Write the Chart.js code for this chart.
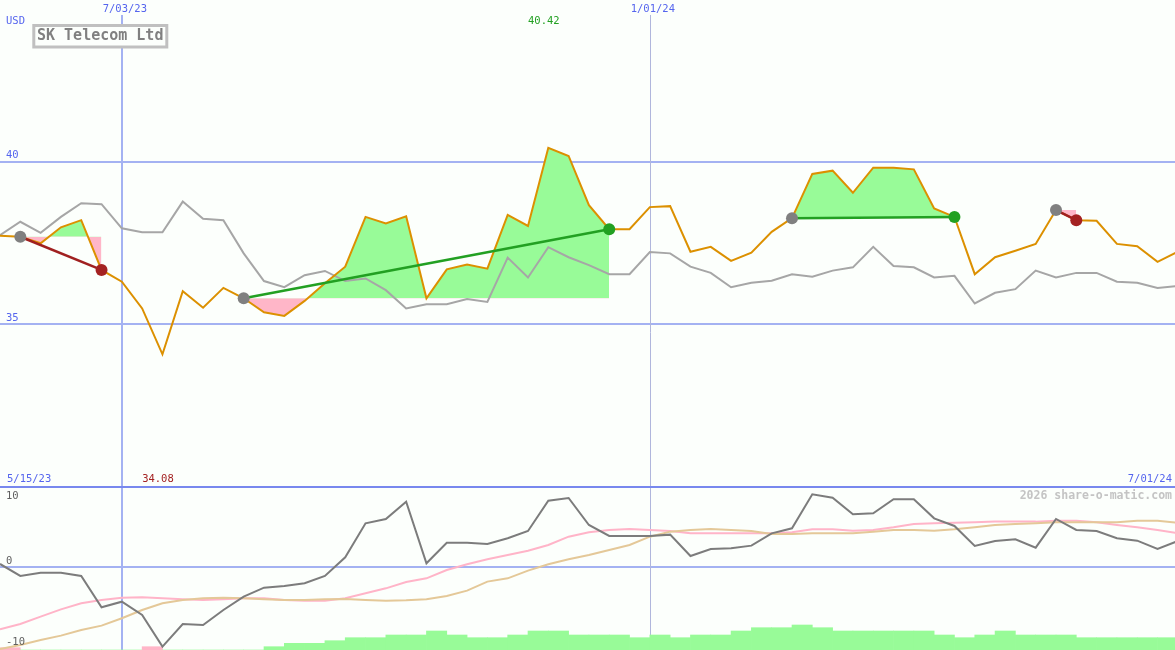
<!DOCTYPE html>
<html>
<head>
<meta charset="utf-8">
<title>SK Telecom Ltd</title>
<script src="https://cdn.jsdelivr.net/npm/chart.js@4.4.1/dist/chart.umd.min.js"></script>
<style>
  html, body { margin: 0; padding: 0; background: #fcfffc; }
  #wrap { width: 1175px; height: 650px; }
</style>
</head>
<body>
<div id="wrap"><canvas id="chart" width="1175" height="650"></canvas></div>
<script>
// weekly closes, week 0 is the first on the chart
const price = [37.72, 37.69, 37.49, 37.98, 38.20, 36.67, 36.31, 35.49, 34.08, 36.02,
  35.51, 36.12, 35.80, 35.37, 35.26, 35.72, 36.26, 36.77, 38.30, 38.10,
  38.32, 35.80, 36.69, 36.84, 36.71, 38.36, 38.02, 40.42, 40.17, 38.66,
  37.92, 37.92, 38.60, 38.63, 37.23, 37.38, 36.95, 37.20, 37.84, 38.26,
  39.62, 39.72, 39.04, 39.81, 39.81, 39.76, 38.56, 38.30, 36.54, 37.06,
  37.26, 37.47, 38.51, 38.20, 38.18, 37.47, 37.40, 36.92, 37.23];

// comparison line (grey)
const compare = [37.74, 38.15, 37.81, 38.30, 38.72, 38.69, 37.95, 37.83, 37.83, 38.77,
  38.24, 38.20, 37.18, 36.33, 36.14, 36.51, 36.64, 36.33, 36.41, 36.05,
  35.49, 35.62, 35.62, 35.78, 35.69, 37.05, 36.44, 37.37, 37.06, 36.82,
  36.54, 36.54, 37.22, 37.18, 36.77, 36.58, 36.14, 36.28, 36.34, 36.54,
  36.46, 36.65, 36.75, 37.38, 36.79, 36.75, 36.44, 36.49, 35.64, 35.97,
  36.08, 36.65, 36.44, 36.58, 36.58, 36.31, 36.28, 36.12, 36.18];

// lower panel oscillator and its two averages
const osc = [0.5, -1.21, -0.74, -0.74, -1.21, -5.69, -4.89, -6.79, -11.31, -8.07,
  -8.21, -6.07, -4.17, -2.88, -2.64, -2.26, -1.21, 1.45, 6.31, 6.93,
  9.40, 0.60, 3.54, 3.54, 3.36, 4.17, 5.21, 9.54, 9.93, 6.07,
  4.50, 4.50, 4.50, 4.69, 1.64, 2.64, 2.74, 3.12, 4.88, 5.60,
  10.45, 9.97, 7.60, 7.74, 9.74, 9.74, 7.02, 5.93, 3.07, 3.79,
  4.02, 2.83, 6.93, 5.36, 5.21, 4.17, 3.83, 2.64, 3.79];

const oscFast = [-8.83, -8.07, -7.02, -5.98, -5.12, -4.64, -4.31, -4.26, -4.40, -4.55,
  -4.64, -4.55, -4.40, -4.40, -4.64, -4.74, -4.74, -4.40, -3.69, -2.98,
  -2.07, -1.55, -0.36, 0.45, 1.17, 1.79, 2.40, 3.21, 4.40, 5.02,
  5.36, 5.50, 5.36, 5.21, 4.88, 4.88, 4.88, 4.88, 4.88, 5.02,
  5.45, 5.45, 5.26, 5.36, 5.74, 6.21, 6.31, 6.40, 6.45, 6.55,
  6.55, 6.55, 6.69, 6.69, 6.45, 6.07, 5.74, 5.36, 4.88];

const oscSlow = [-11.64, -11.07, -10.36, -9.74, -8.93, -8.31, -7.26, -6.07, -5.12, -4.64,
  -4.40, -4.31, -4.40, -4.55, -4.64, -4.64, -4.55, -4.50, -4.64, -4.74,
  -4.69, -4.55, -4.07, -3.31, -2.02, -1.55, -0.45, 0.45, 1.17, 1.79,
  2.50, 3.21, 4.40, 5.12, 5.36, 5.50, 5.36, 5.21, 4.79, 4.79,
  4.88, 4.88, 4.88, 5.12, 5.36, 5.36, 5.26, 5.45, 5.74, 6.07,
  6.21, 6.31, 6.45, 6.45, 6.45, 6.45, 6.69, 6.69, 6.40];

// weekly bars along the bottom, negative weeks are pink
const volume = [-2.3, 0, 0, 0, 0, 0, 0, -3.3, 0, 0,
  0, 0, 0, 3.3, 6.7, 6.7, 9.3, 12.3, 12.3, 15,
  15, 19, 15, 12.3, 12.3, 15, 19, 19, 15, 15,
  15, 12.3, 15, 12.3, 15, 15, 19, 22.3, 22.3, 25,
  22.3, 19, 19, 19, 19, 19, 15, 12.3, 15, 19,
  15, 15, 15, 12.3, 12.3, 12.3, 12.3, 12.3];

// [entry week, exit week]
const trades = [[1, 5], [12, 30], [39, 47], [52, 53]];

const dateMarks = [[6, '7/03/23'], [32, '1/01/24']];
const firstDate = '5/15/23';
const lastDate = '7/01/24';
const priceTicks = [40, 35];
const oscTicks = [10, 0, -10];

const W = 1175, H = 650, SPLIT = 487;
const GREEN = '#98fb98', PINK = '#ffb6c8';
const BLUE = '#5565ee', GRID = '#a4b2f2';
const MONO = '"DejaVu Sans Mono", "Liberation Mono", monospace';

const pts = arr => arr.map((v, i) => ({x: i, y: v}));

const datasets = [];

// entry / exit dots
const markerData = [], markerColors = [];
trades.forEach(([a, b]) => {
  const win = price[b] > price[a];
  markerData.push({x: a, y: price[a]}, {x: b, y: price[b]});
  markerColors.push('#808080', win ? '#22a022' : '#a42222');
});
datasets.push({
  data: markerData, yAxisID: 'yP', showLine: false, order: 0,
  pointRadius: 6, pointHoverRadius: 6, pointBorderWidth: 0,
  pointBackgroundColor: markerColors
});

trades.forEach(([a, b]) => {
  const win = price[b] > price[a];
  datasets.push({
    data: [{x: a, y: price[a]}, {x: b, y: price[b]}], yAxisID: 'yP', order: 1,
    borderColor: win ? '#22a022' : '#a02020', borderWidth: 2.5, pointRadius: 0
  });
  datasets.push({
    data: pts(price).slice(a, b + 1), yAxisID: 'yP', order: 5,
    borderWidth: 0, pointRadius: 0,
    fill: {target: {value: price[a]}, above: GREEN, below: PINK}
  });
});

datasets.push({data: pts(price), yAxisID: 'yP', order: 2, borderColor: '#dc9000', borderWidth: 2, pointRadius: 0});
datasets.push({data: pts(compare), yAxisID: 'yP', order: 3, borderColor: '#a6a6a6', borderWidth: 2, pointRadius: 0});

datasets.push({data: pts(osc), yAxisID: 'yO', order: 6, borderColor: '#7c7c7c', borderWidth: 2, pointRadius: 0});
datasets.push({data: pts(oscSlow), yAxisID: 'yO', order: 7, borderColor: '#e4c898', borderWidth: 2, pointRadius: 0});
datasets.push({data: pts(oscFast), yAxisID: 'yO', order: 8, borderColor: '#ffb4c8', borderWidth: 2, pointRadius: 0});

datasets.push({
  type: 'bar', yAxisID: 'yV', order: 9,
  data: volume.map((v, i) => ({x: i + 0.5, y: Math.abs(v)})),
  backgroundColor: volume.map(v => v < 0 ? PINK : GREEN),
  borderWidth: 0, barPercentage: 1, categoryPercentage: 1, grouped: false
});

const backdrop = {
  id: 'backdrop',
  beforeDatasetsDraw(chart) {
    const {ctx, scales: {x, yP, yO}} = chart;
    ctx.save();
    ctx.fillStyle = '#fcfffc';
    ctx.fillRect(0, 0, W, H);
    ctx.strokeStyle = GRID;
    ctx.lineWidth = 2;
    priceTicks.forEach(v => {
      const y = Math.round(yP.getPixelForValue(v));
      ctx.beginPath(); ctx.moveTo(0, y); ctx.lineTo(W, y); ctx.stroke();
    });
    const y0 = Math.round(yO.getPixelForValue(0));
    ctx.beginPath(); ctx.moveTo(0, y0); ctx.lineTo(W, y0); ctx.stroke();
    dateMarks.forEach(([i], k) => {
      const px = Math.round(x.getPixelForValue(i));
      ctx.lineWidth = k === 0 ? 2 : 1;
      ctx.strokeStyle = k === 0 ? GRID : '#b0b6dc';
      ctx.beginPath(); ctx.moveTo(px + (k === 0 ? 0 : 0.5), 15); ctx.lineTo(px + (k === 0 ? 0 : 0.5), H); ctx.stroke();
    });
    ctx.strokeStyle = '#7888ee';
    ctx.lineWidth = 2;
    ctx.beginPath(); ctx.moveTo(0, SPLIT); ctx.lineTo(W, SPLIT); ctx.stroke();
    ctx.restore();
  },
  afterDraw(chart) {
    const {ctx, scales: {x, yP, yO}} = chart;
    ctx.save();
    ctx.textBaseline = 'middle';
    ctx.font = '10.5px ' + MONO;

    ctx.fillStyle = BLUE;
    ctx.textAlign = 'left';
    ctx.fillText('USD', 6, 21);
    priceTicks.forEach(v => ctx.fillText(String(v), 6, yP.getPixelForValue(v) - 6));
    ctx.fillText(firstDate, 7, SPLIT - 8);
    ctx.textAlign = 'right';
    ctx.fillText(lastDate, 1172, SPLIT - 8);
    ctx.textAlign = 'center';
    dateMarks.forEach(([i, label]) => ctx.fillText(label, x.getPixelForValue(i) + 3, 9));

    // high / low of the period
    const hi = price.indexOf(Math.max(...price));
    const lo = price.indexOf(Math.min(...price));
    ctx.textAlign = 'left';
    ctx.fillStyle = '#22a022';
    ctx.fillText(price[hi].toFixed(2), x.getPixelForValue(hi - 1), 21);
    ctx.fillStyle = '#a42222';
    ctx.fillText(price[lo].toFixed(2), x.getPixelForValue(lo - 1), SPLIT - 8);

    ctx.fillStyle = '#606060';
    oscTicks.forEach(v => {
      let y = yO.getPixelForValue(v) - 6;
      if (v > 0) y = SPLIT + 9;
      if (v < 0) y = H - 8;
      ctx.fillText(String(v), 6, y);
    });

    ctx.font = 'bold 11.5px ' + MONO;
    ctx.fillStyle = '#c4c4c4';
    ctx.textAlign = 'right';
    ctx.fillText('2026 share-o-matic.com', 1172, SPLIT + 9);

    // title box
    ctx.fillStyle = '#fcfffc';
    ctx.fillRect(33, 25, 134, 22);
    ctx.strokeStyle = '#c0c0c0';
    ctx.lineWidth = 3;
    ctx.strokeRect(33.8, 25.5, 133, 21.5);
    ctx.font = 'bold 15px ' + MONO;
    ctx.fillStyle = '#808080';
    ctx.textAlign = 'left';
    ctx.fillText('SK Telecom Ltd', 37, 36.5);
    ctx.restore();
  }
};

new Chart(document.getElementById('chart'), {
  type: 'line',
  data: {datasets: datasets},
  options: {
    responsive: false,
    animation: false,
    devicePixelRatio: 1,
    layout: {padding: 0, autoPadding: false},
    plugins: {legend: {display: false}, tooltip: {enabled: false}},
    elements: {line: {tension: 0}},
    scales: {
      x: {type: 'linear', display: false, min: 0, max: 57.86, offset: false},
      yP: {display: false, min: 25.0, max: 44.96},
      yO: {display: false, min: -11.79, max: 81.07},
      yV: {display: false, min: 0, max: 650}
    }
  },
  plugins: [backdrop]
});
</script>
</body>
</html>
